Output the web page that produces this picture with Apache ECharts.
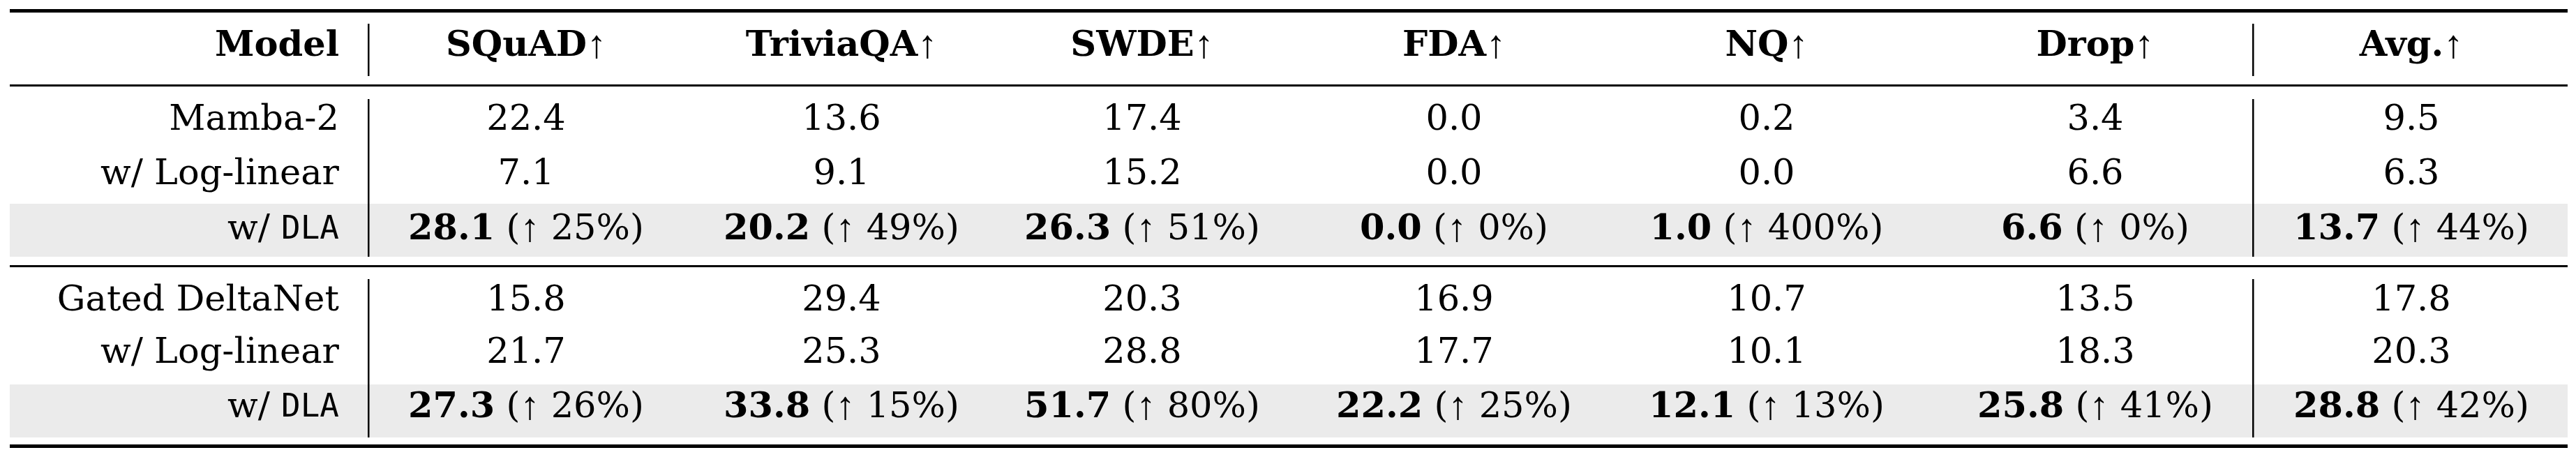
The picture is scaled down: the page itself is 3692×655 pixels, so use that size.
<!DOCTYPE html>
<html>
<head>
<meta charset="utf-8">
<script src="https://cdn.jsdelivr.net/npm/echarts@6/dist/echarts.min.js"></script>
<style>html,body{margin:0;padding:0;background:#fff}#chart{width:3692px;height:655px}</style>
</head>
<body>
<div id="chart"></div>
<script>
// 表头与数据
var columns = ['SQuAD', 'TriviaQA', 'SWDE', 'FDA', 'NQ', 'Drop', 'Avg.'];
var models = ['Mamba-2', 'w/ Log-linear', 'w/ DLA', 'Gated DeltaNet', 'w/ Log-linear', 'w/ DLA'];
var mamba = [22.4, 13.6, 17.4, 0.0, 0.2, 3.4, 9.5];
var mambaLog = [7.1, 9.1, 15.2, 0.0, 0.0, 6.6, 6.3];
var mambaDla = [28.1, 20.2, 26.3, 0.0, 1.0, 6.6, 13.7];
var mambaGain = [25, 49, 51, 0, 400, 0, 44];
var gdn = [15.8, 29.4, 20.3, 16.9, 10.7, 13.5, 17.8];
var gdnLog = [21.7, 25.3, 28.8, 17.7, 10.1, 18.3, 20.3];
var gdnDla = [27.3, 33.8, 51.7, 22.2, 12.1, 25.8, 28.8];
var gdnGain = [26, 15, 80, 25, 13, 41, 42];

// 布局
var colX = [754, 1206, 1637, 2084, 2532, 3003, 3456];
var rowY = [173, 251, 330, 432, 507, 585];
var headerY = 67;
var modelX = 486;
var left = 14, right = 3680;
var green = '#1f9e5a';
var serif = '"DejaVu Serif", "Liberation Serif", serif';
var fs = 51;

var rows = [
    {vals: mamba}, {vals: mambaLog}, {vals: mambaDla, gain: mambaGain},
    {vals: gdn}, {vals: gdnLog}, {vals: gdnDla, gain: gdnGain}
];

var rich = {
    b: {fontFamily: serif, fontSize: fs, fontWeight: 'bold', color: '#000'},
    n: {fontFamily: serif, fontSize: fs, color: '#000'},
    g: {fontFamily: serif, fontSize: fs, color: green},
    a: {fontFamily: '"Liberation Serif", serif', fontSize: fs * 1.1, color: green},
    m: {fontFamily: '"DejaVu Sans Mono", monospace', fontSize: fs * 0.9, color: '#000'}
};

function txt(x, y, text, align) {
    return {
        type: 'text', x: x, y: y, z: 10,
        style: {text: text, rich: rich, align: align || 'center', verticalAlign: 'middle',
            font: fs + 'px ' + serif}
    };
}
function rect(x, y, w, h, color) {
    return {type: 'rect', shape: {x: x, y: y, width: w, height: h}, style: {fill: color}, z: 1};
}

var g = [];
// 灰色背景
g.push(rect(left, 292, right - left, 76, '#ebebeb'));
g.push(rect(left, 551, right - left, 76, '#ebebeb'));
// 横线
g.push(rect(left, 13, right - left, 5, '#000'));
g.push(rect(left, 121, right - left, 3, '#000'));
g.push(rect(left, 380, right - left, 3, '#000'));
g.push(rect(left, 637, right - left, 5, '#000'));
// 竖线
[528, 3229].forEach(function (x) {
    [[34, 109], [142, 368], [400, 627]].forEach(function (s) {
        g.push(rect(x - 1, s[0], 2.5, s[1] - s[0], '#000'));
    });
});

// 表头
g.push(txt(modelX, headerY, '{b|Model}', 'right'));
columns.forEach(function (c, i) {
    g.push(txt(colX[i], headerY, '{b|' + c + '}{a|↑}'));
});

// 数据行
rows.forEach(function (r, ri) {
    var name = models[ri];
    var label = name === 'w/ DLA' ? '{n|w/ }{m|DLA}' : '{n|' + name + '}';
    g.push(txt(modelX, rowY[ri], label, 'right'));
    r.vals.forEach(function (v, ci) {
        var s = r.gain
            ? '{b|' + v.toFixed(1) + '}{n| (}{a|↑}{g| ' + r.gain[ci] + '%}{n|)}'
            : '{n|' + v.toFixed(1) + '}';
        g.push(txt(colX[ci], rowY[ri], s));
    });
});

var chart = echarts.init(document.getElementById('chart'));
chart.setOption({
    animation: false,
    backgroundColor: '#fff',
    graphic: g
});
</script>
</body>
</html>
